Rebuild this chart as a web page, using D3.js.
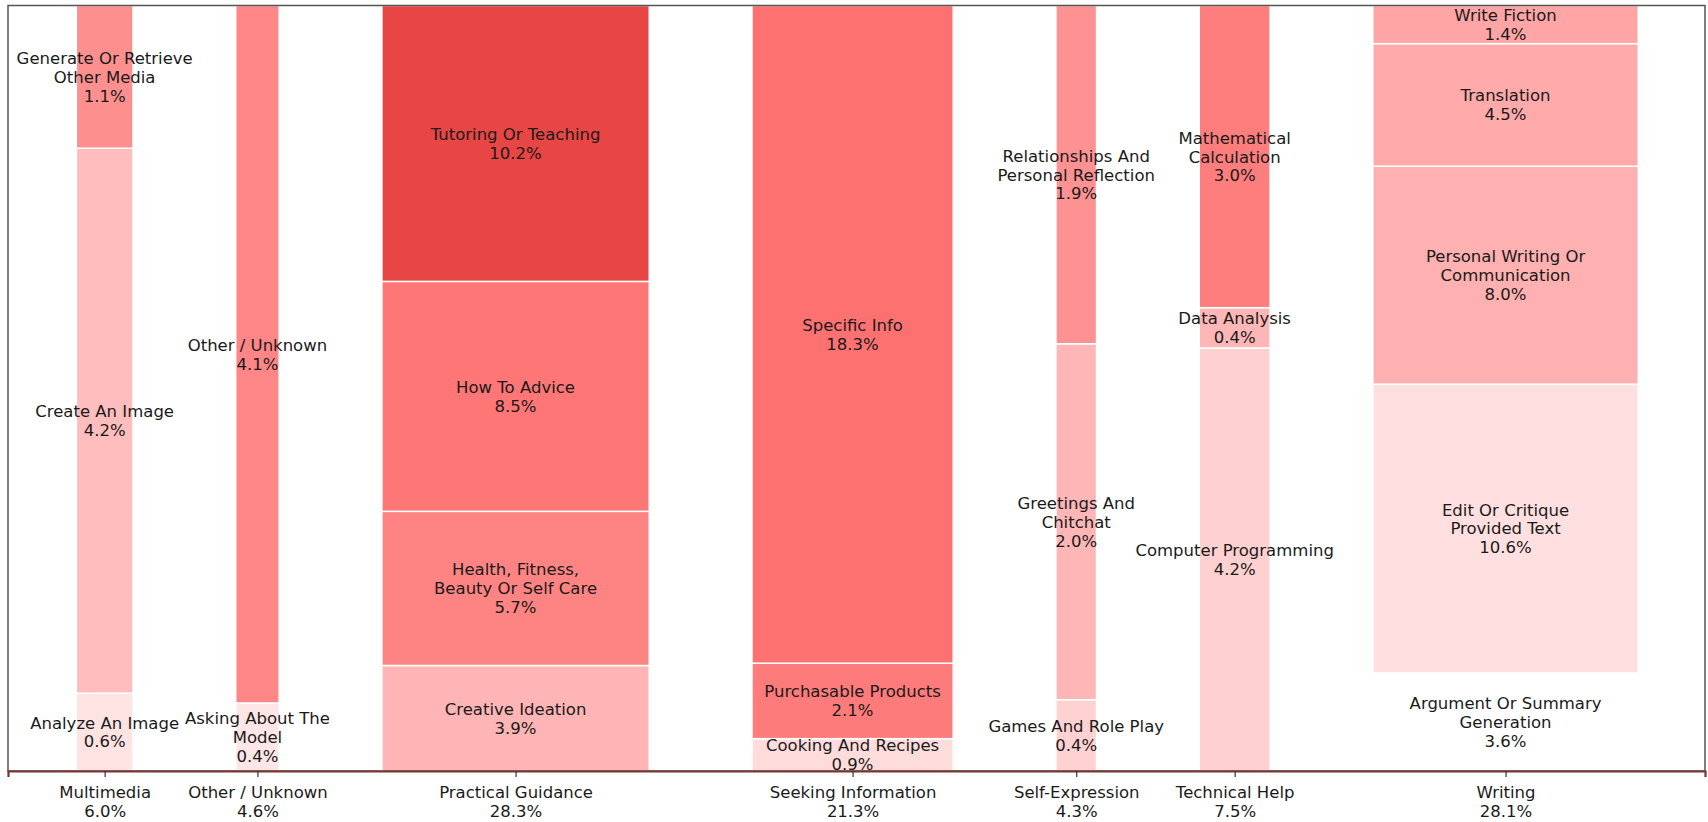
<!DOCTYPE html>
<html>
<head>
<meta charset="utf-8">
<script src="https://cdn.jsdelivr.net/npm/d3@7/dist/d3.min.js"></script>
<style>
  html, body { margin: 0; padding: 0; background: #ffffff; }
  svg { display: block; }
  text { font-family: "DejaVu Sans", sans-serif; }
</style>
</head>
<body>
<svg id="chart" width="1708" height="822"></svg>
<script>
// ---- data ----
const categories = ["Multimedia", "Other / Unknown", "Practical Guidance", "Seeking Information",
                    "Self-Expression", "Technical Help", "Writing"];
const categoryShares = [6.0, 4.6, 28.3, 21.3, 4.3, 7.5, 28.1];

// sub-topics listed bottom to top inside each column
const subNames = [
  ["Analyze An Image", "Create An Image", "Generate Or Retrieve Other Media"],
  ["Asking About The Model", "Other / Unknown"],
  ["Creative Ideation", "Health, Fitness, Beauty Or Self Care", "How To Advice", "Tutoring Or Teaching"],
  ["Cooking And Recipes", "Purchasable Products", "Specific Info"],
  ["Games And Role Play", "Greetings And Chitchat", "Relationships And Personal Reflection"],
  ["Computer Programming", "Data Analysis", "Mathematical Calculation"],
  ["Argument Or Summary Generation", "Edit Or Critique Provided Text", "Personal Writing Or Communication",
   "Translation", "Write Fiction"]
];
const subValues = [
  [0.6, 4.2, 1.1],
  [0.4, 4.1],
  [3.9, 5.7, 8.5, 10.2],
  [0.9, 2.1, 18.3],
  [0.4, 2.0, 1.9],
  [4.2, 0.4, 3.0],
  [3.6, 10.6, 8.0, 4.5, 1.4]
];
const subColors = [
  ["#ffe3e3", "#ffbdbd", "#fe8f8f"],
  ["#ffe6e6", "#fe8686"],
  ["#ffb5b5", "#fe8484", "#fe7676", "#e84545"],
  ["#ffdcdc", "#fe7b7b", "#fe7171"],
  ["#ffd2d2", "#ffb6b6", "#fe9292"],
  ["#ffd0d0", "#ffb6b6", "#fe7e7e"],
  ["#ffffff", "#ffdfdf", "#ffb0b0", "#ffaaaa", "#ffa5a5"]
];

// ---- layout ----
const svg = d3.select("#chart");
const frame = { left: 8, right: 1705, top: 5.5, bottom: 771 };
const gapUnits = 10.87;

let cum = 0;
const starts = categoryShares.map((s, i) => { const x0 = cum + i * gapUnits; cum += s; return x0; });
const totalUnits = cum + gapUnits * (categories.length - 1);

const x = d3.scaleLinear()
  .domain([-7.23, totalUnits + 7.06])
  .range([frame.left, frame.right]);
const y = d3.scaleLinear().domain([0, 1]).range([frame.bottom, frame.top]);

function wrap(str, width) {
  const words = str.split(" ");
  const lines = [];
  let cur = "";
  words.forEach(w => {
    if (cur === "") cur = w;
    else if ((cur + " " + w).length <= width) cur += " " + w;
    else { lines.push(cur); cur = w; }
  });
  if (cur) lines.push(cur);
  return lines;
}

const segs = [];
categories.forEach((c, i) => {
  const vals = subValues[i];
  const tot = d3.sum(vals);
  let acc = 0;
  vals.forEach((v, j) => {
    segs.push({
      cat: i, name: subNames[i][j], value: v, color: subColors[i][j],
      x0: starts[i], x1: starts[i] + categoryShares[i],
      y0: acc / tot, y1: (acc + v) / tot
    });
    acc += v;
  });
});

const gBars = svg.append("g");
gBars.selectAll("rect").data(segs).join("rect")
  .attr("x", d => x(d.x0))
  .attr("width", d => x(d.x1) - x(d.x0))
  .attr("y", d => y(d.y1))
  .attr("height", d => y(d.y0) - y(d.y1))
  .attr("fill", d => d.color)
  .attr("stroke", "#ffffff")
  .attr("stroke-width", 1.5);

// labels
const fs = 16.5, lh = 18.9;
const gLab = svg.append("g");
segs.forEach(d => {
  const lines = wrap(d.name, 20).concat([d.value.toFixed(1) + "%"]);
  const cx = x((d.x0 + d.x1) / 2);
  const cy = y((d.y0 + d.y1) / 2);
  const t = gLab.append("text")
    .attr("text-anchor", "middle")
    .attr("font-size", fs)
    .attr("fill", "#1a1a1a");
  const n = lines.length;
  lines.forEach((l, k) => {
    t.append("tspan")
      .attr("x", cx)
      .attr("y", cy + (k - (n - 1) / 2) * lh)
      .attr("dy", "0.36em")
      .text(l);
  });
});

// frame spines
svg.append("rect")
  .attr("x", frame.left).attr("y", frame.top)
  .attr("width", frame.right - frame.left).attr("height", frame.bottom - frame.top)
  .attr("fill", "none").attr("stroke", "#555555").attr("stroke-width", 1.5);

// x axis
const centers = categories.map((c, i) => starts[i] + categoryShares[i] / 2);
const axis = d3.axisBottom(x).tickValues(centers).tickSize(6).tickPadding(5).tickFormat(() => "");
const gAx = svg.append("g").attr("transform", `translate(0,${frame.bottom})`).call(axis);
gAx.select(".domain").attr("stroke", "#7a3434").attr("stroke-width", 2.2);
gAx.selectAll(".tick line").attr("stroke", "#333").attr("stroke-width", 1.2);
gAx.selectAll(".tick").each(function(d, i) {
  const t = d3.select(this).select("text")
    .attr("font-size", fs).attr("fill", "#1a1a1a")
    .attr("font-family", "DejaVu Sans, sans-serif")
    .attr("dy", null).attr("y", null);
  t.text(null);
  t.append("tspan").attr("x", 0).attr("y", 21).attr("dy", "0.36em").text(categories[i]);
  t.append("tspan").attr("x", 0).attr("y", 21 + lh).attr("dy", "0.36em").text(categoryShares[i].toFixed(1) + "%");
});
</script>
</body>
</html>
